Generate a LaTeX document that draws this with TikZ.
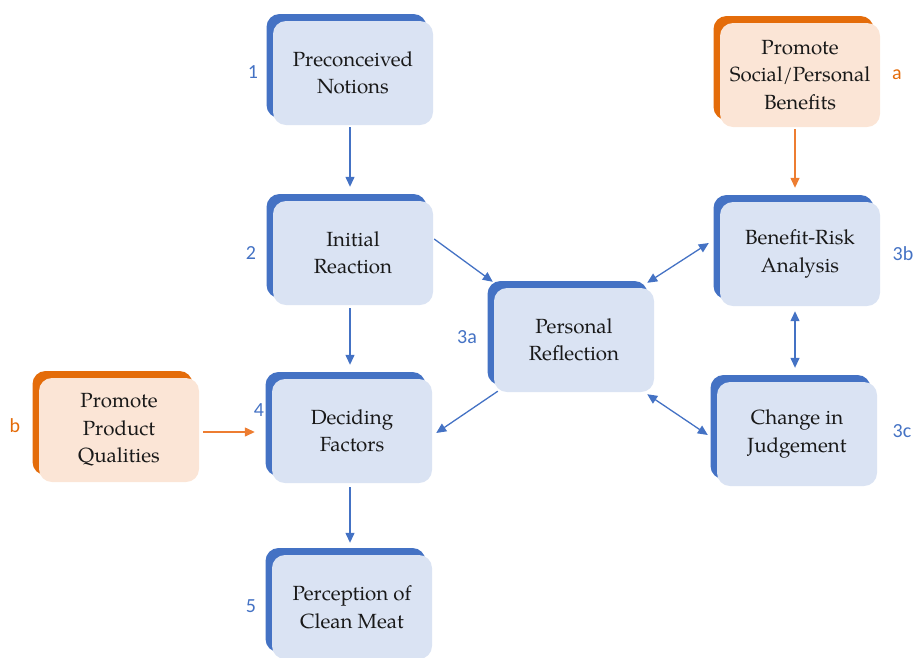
\documentclass[tikz,border=0pt]{standalone}
\usepackage{fontspec}
\setmainfont{texgyrepagella}[Extension=.otf, UprightFont=*-regular, BoldFont=*-bold]
\newfontfamily\numfont{Carlito}
\usetikzlibrary{arrows.meta,shadows}

\definecolor{bdark}{HTML}{4472C4}
\definecolor{bfill}{HTML}{DAE3F3}
\definecolor{odark}{HTML}{E46C0A}
\definecolor{ofill}{HTML}{FBE5D6}
\definecolor{oline}{HTML}{ED7D31}

\begin{document}
\begin{tikzpicture}[x=1pt,y=-1pt,
  box/.style={rounded corners=13pt, minimum width=160pt, minimum height=104pt,
    inner sep=2pt, align=center, text=black!90,
    font=\fontsize{20.5}{27.5}\selectfont},
  bluebox/.style={box, fill=bfill,
    copy shadow={shadow xshift=-6.5pt, shadow yshift=7pt, fill=bdark, draw=none}},
  orangebox/.style={box, fill=ofill,
    copy shadow={shadow xshift=-6.5pt, shadow yshift=7pt, fill=odark, draw=none}},
  num/.style={font=\numfont\fontsize{20}{22}\selectfont, inner sep=0pt},
  arr/.style={draw=bdark, line width=1.3pt, -{Triangle[length=10pt,width=9pt]}},
  darr/.style={draw=bdark, line width=1.3pt,
    {Triangle[length=10pt,width=9pt]}-{Triangle[length=10pt,width=9pt]}},
  oarr/.style={draw=oline, line width=1.3pt, -{Triangle[length=10pt,width=9pt]}}
]
\useasboundingbox (0,0) rectangle (917,657);

% boxes
\node[bluebox] (b1) at (353,73) {Preconceived\\Notions};
\node[bluebox] (b2) at (353,253) {Initial\\Reaction};
\node[bluebox] (b4) at (352,431) {Deciding\\Factors};
\node[bluebox] (b5) at (352,607) {Perception of\\Clean Meat};
\node[bluebox] (r3a) at (574,340) {Personal\\Reflection};
\node[bluebox] (b3b) at (800,254) {Benefit-Risk\\Analysis};
\node[bluebox] (b3c) at (797,434) {Change in\\Judgement};
\node[orangebox] (pa) at (800,75) {Promote\\Social/Personal\\Benefits};
\node[orangebox] (pb) at (119,430) {Promote\\Product\\Qualities};

% step labels
\node[num, text=bdark] (l1) at (253,72) {1};
\node[num, text=bdark] (l2) at (251,253) {2};
\node[num, text=bdark] (l3a) at (467,337) {3a};
\node[num, text=bdark] (l4) at (259,410) {4};
\node[num, text=bdark] (l5) at (251,606) {5};
\node[num, text=bdark] (l3b) at (903,254) {3b};
\node[num, text=bdark] (l3c) at (902,431) {3c};
\node[num, text=odark] (la) at (897,75) {a};
\node[num, text=odark] (lb) at (15,426) {b};

% connectors
\draw[arr] ([shift={(-3pt,-2pt)}]b1.south) -- ([shift={(-3pt,14pt)}]b2.north);
\draw[arr] ([shift={(-3pt,-3pt)}]b2.south) -- ([shift={(-2pt,14pt)}]b4.north);
\draw[arr] ([shift={(-2pt,-4pt)}]b4.south) -- ([shift={(-2pt,12pt)}]b5.north);
\draw[arr] ([shift={(1pt,14pt)}]b2.east) -- ([shift={(-1pt,6pt)}]r3a.north west);
\draw[arr] ([shift={(4pt,1pt)}]r3a.south west) -- ([shift={(4pt,-2pt)}]b4.east);
\draw[darr] ([shift={(-7pt,5pt)}]r3a.north east) -- ([shift={(-11pt,11pt)}]b3b.west);
\draw[darr] ([shift={(-7pt,-2pt)}]r3a.south east) -- ([shift={(-9pt,-1pt)}]b3c.west);
\draw[darr] ([shift={(-5pt,-5pt)}]b3b.south) -- ([shift={(-2pt,14pt)}]b3c.north);
\draw[oarr] ([shift={(-5pt,-2pt)}]pa.south) -- ([shift={(-5pt,14pt)}]b3b.north);
\draw[oarr] ([shift={(4pt,-2pt)}]pb.east) -- ([shift={(-17pt,-1pt)}]b4.west);
\end{tikzpicture}
\end{document}
